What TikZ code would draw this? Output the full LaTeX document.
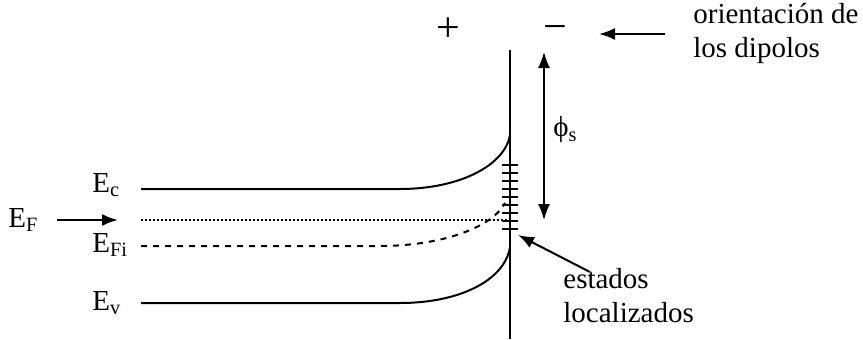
\documentclass[tikz,border=0pt]{standalone}
\usepackage{fontspec}
\setmainfont{Liberation Serif}
\usetikzlibrary{arrows.meta}

\begin{document}
\begin{tikzpicture}[x=0.5pt, y=-0.5pt,
  band/.style={line width=1pt},
  lbl/.style={font=\fontsize{14.5}{17}\selectfont, inner sep=0pt, anchor=west},
  sign/.style={font=\fontsize{21}{21}\selectfont, inner sep=0pt},
  arr/.style={line width=1pt, -{Latex[length=8pt, width=6pt]}}]
\useasboundingbox (0,0) rectangle (863,339);

% interfaz
\coordinate (Itop) at (510,50);
\coordinate (Ibot) at (510,339);
\draw[band] (Itop) -- (Ibot);

% bandas
\draw[band] (141,189) -- (400,189)
  .. controls (460,189) and (505,165) .. (510,135);
\draw[band, densely dotted] (141,220) -- (510,220);
\draw[band, dashed] (141,246) -- (380,246)
  .. controls (440,246) and (492,228) .. (505,203);
\draw[band] (141,303) -- (400,303)
  .. controls (460,303) and (505,280) .. (510,247);

% estados de superficie
\foreach \i in {0,...,8} {
  \draw[line width=0.8pt] (502,{165+8*\i}) -- (518,{165+8*\i});
}

% etiquetas
\node[lbl] (Ec) at (92,185) {E\textsubscript{c}};
\node[lbl] (EF) at (8,220) {E\textsubscript{F}};
\node[lbl] (EFi) at (92,245) {E\textsubscript{Fi}};
\node[lbl] (Ev) at (92,303) {E\textsubscript{v}};
\coordinate (EFtip) at (118,220);
\draw[arr] (EF.east) ++(18,0) coordinate (EFtail) (EFtail) -- (EFtip);

% dipolos
\node[sign] (plus) at (448,30) {+};
\node[sign] (minus) at (555,33) {−};
\node[lbl, align=left] (dip) at (693,33) {orientación de\\los dipolos};
\coordinate (Dtail) at (665,34);
\coordinate (Dtip) at (599,34);
\draw[arr] (Dtail) -- (Dtip);

% potencial de superficie
\coordinate (Ptop) at (544,52);
\coordinate (Pbot) at (544,220);
\draw[line width=0.8pt, {Latex[length=8pt, width=6pt]}-{Latex[length=8pt, width=6pt]}] (Ptop) -- (Pbot);
\node[lbl] (phi) at (553,130) {ϕ\textsubscript{s}};

% estados localizados
\node[lbl, align=left] (loc) at (563,296) {estados\\localizados};
\coordinate (Ltail) at (590,272);
\coordinate (Ltip) at (518,235);
\draw[arr] (Ltail) -- (Ltip);
\end{tikzpicture}
\end{document}
